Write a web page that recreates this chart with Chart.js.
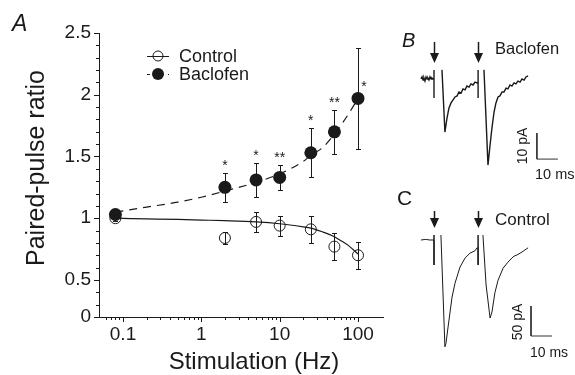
<!DOCTYPE html>
<html lang="en">
<head>
<meta charset="UTF-8" />
<title>Paired-pulse ratio vs stimulation frequency</title>
<script src="https://cdn.jsdelivr.net/npm/chart.js@4"></script>
<style>
  body { margin: 0; background: #fff; }
  #fig { position: relative; width: 575px; height: 375px; overflow: hidden;
         font-family: "Liberation Sans", Arial, Helvetica, sans-serif; color: #1a1a1a; }
  #fig canvas { position: absolute; }
  .lbl { position: absolute; line-height: 1; white-space: nowrap; }
  .rot { transform: translate(-50%, -50%) rotate(-90deg); }
</style>
</head>
<body>
<div id="fig">
  <canvas id="ppr" width="400" height="375" style="left:0;top:0"></canvas>
  <canvas id="traceB" width="165" height="150" style="left:405px;top:30px"></canvas>
  <canvas id="traceC" width="165" height="180" style="left:405px;top:190px"></canvas>

  <div class="lbl" style="left:12px;top:12px;font-size:23px;font-style:italic">A</div>
  <div class="lbl rot" style="left:35px;top:168px;font-size:25px">Paired-pulse ratio</div>
  <div class="lbl" style="left:254px;top:349px;font-size:24px;transform:translateX(-50%)">Stimulation (Hz)</div>

  <div class="lbl" style="left:402px;top:30px;font-size:20px;font-style:italic">B</div>
  <div class="lbl" style="left:495px;top:40px;font-size:16.5px">Baclofen</div>
  <div class="lbl rot" style="left:522px;top:146px;font-size:14px">10 pA</div>
  <div class="lbl" style="left:535px;top:167px;font-size:14.5px">10 ms</div>

  <div class="lbl" style="left:397px;top:187px;font-size:21px">C</div>
  <div class="lbl" style="left:495px;top:211px;font-size:17px">Control</div>
  <div class="lbl rot" style="left:517px;top:322px;font-size:14px">50 pA</div>
  <div class="lbl" style="left:530px;top:345px;font-size:14px">10 ms</div>
</div>

<script>
  // ---- panel A data ----
  const FREQ = [0.08, 2, 5, 10, 25, 50, 100];
  const CONTROL = [1.00, 0.84, 0.97, 0.94, 0.91, 0.77, 0.70];
  const CONTROL_SEM = [0.02, 0.05, 0.08, 0.08, 0.11, 0.11, 0.11];
  const BACLOFEN = [1.03, 1.25, 1.31, 1.33, 1.53, 1.70, 1.97];
  const BACLOFEN_SEM = [0.04, 0.12, 0.135, 0.10, 0.20, 0.18, 0.41];
  const BACLOFEN_SIG = ['', '*', '*', '**', '*', '**', '*'];

  const FIT_FREQ = [0.08, 0.2, 0.5, 1, 2, 5, 10, 20, 25, 35, 50, 60, 75, 100];
  const CONTROL_FIT = [1.00, 0.995, 0.99, 0.985, 0.98, 0.97, 0.955, 0.93, 0.92, 0.89, 0.85, 0.82, 0.78, 0.71];
  const BACLOFEN_FIT = [1.05, 1.09, 1.13, 1.17, 1.22, 1.29, 1.36, 1.46, 1.51, 1.57, 1.68, 1.75, 1.84, 1.97];

  const X_LABELS = [[0.1, '0.1'], [1, '1'], [10, '10'], [100, '100']];
  const Y_LABELS = [[0.2, '0'], [0.5, '0.5'], [1, '1'], [1.5, '1.5'], [2, '2'], [2.5, '2.5']];
  const X_DECADES = [0.01, 0.1, 1, 10, 100];
  const X_MULT = [1, 2, 3, 4, 5, 6, 7, 8, 9];

  // ---- panels B/C traces (time ms from 1st stimulus, current pA) ----
  const STIM_T = [0, 21];
  const TRACE_B_T = [-6.2, -5.7, -5.2, -4.8, -4.3, -3.8, -3.3, -2.9, -2.4, -1.9, -1.4, -1.0, -0.5, 0, 0, 0, null,
    3.8, 5.2, 6.2, 7.1, 8.1, 9.0, 10.0, 11.0, 11.9, 12.9, 13.8, 14.8, 15.7, 16.7, 17.6, 18.6, 19.5, 20.5, 21, 21, 21, null,
    23.8, 25.7, 26.7, 27.6, 28.6, 29.5, 30.5, 31.4, 32.4, 33.3, 34.3, 35.2, 36.2, 37.1, 38.1, 39.0, 40.0, 41.0, 41.9, 42.9, 43.8, 44.8];
  const TRACE_B_I = [0, 0.8, -0.4, 0.4, -0.8, 0.8, 0, 0.4, -0.4, 0.8, 0, 0.4, 0, 0, 3.5, -7.3, null,
    3.5, -20.4, -15.0, -11.2, -9.2, -8.1, -6.9, -6.5, -5.0, -5.4, -3.8, -4.2, -2.7, -3.1, -1.9, -2.3, -1.2, -1.5, -1.2, 3.5, -7.3, null,
    3.5, -33.1, -25.4, -18.8, -12.7, -9.2, -6.9, -6.5, -5.0, -5.0, -3.5, -3.8, -2.3, -2.7, -1.5, -1.9, -0.8, -1.2, 0, -0.4, 0.8, 1.2];

  const TRACE_C_T = [-6.2, -4.0, -2.0, 0, 0, 0, null,
    3.3, 5.2, 5.7, 6.7, 8.6, 10.0, 12.4, 14.8, 17.1, 19.5, 20.5, 21, 21, 21, null,
    23.3, 24.8, 26.7, 27.6, 29.0, 30.5, 32.9, 35.2, 37.1, 38.1, 39.5, 41.9, 44.8];
  const TRACE_C_I = [0, 1, 0, 0, 8.3, -41.7, null,
    8.3, -178, -172, -145, -95, -72, -45, -30, -22, -18, -13, -13, 8.3, -41.7, null,
    8.3, -75, -130, -120, -88, -67, -47, -37, -30, -27, -25, -20, -13];

  const INK = '#1a1a1a';
  const FONT = '"Liberation Sans", Arial, Helvetica, sans-serif';

  const pts = (xs, ys) => xs.map((x, i) => ({ x: x, y: ys[i] }));
  const findLabel = (list, v) => {
    const hit = list.find(p => Math.abs(p[0] - v) < 1e-6 * Math.max(1, p[0]));
    return hit ? hit[1] : '';
  };

  // error bars + significance stars
  const errorBars = {
    id: 'errorBars',
    beforeDatasetsDraw(chart) {
      const ctx = chart.ctx, xs = chart.scales.x, ys = chart.scales.y;
      ctx.save();
      ctx.strokeStyle = INK;
      ctx.lineWidth = 1;
      chart.data.datasets.forEach(ds => {
        if (!ds.sem) return;
        ds.data.forEach((p, i) => {
          const x = Math.round(xs.getPixelForValue(p.x)) + 0.5;
          const yt = Math.round(ys.getPixelForValue(p.y + ds.sem[i])) + 0.5;
          const yb = Math.round(ys.getPixelForValue(p.y - ds.sem[i])) + 0.5;
          ctx.beginPath();
          ctx.moveTo(x, yt); ctx.lineTo(x, yb);
          ctx.moveTo(x - 2.5, yt); ctx.lineTo(x + 2.5, yt);
          ctx.moveTo(x - 2.5, yb); ctx.lineTo(x + 2.5, yb);
          ctx.stroke();
        });
      });
      ctx.restore();
    },
    afterDatasetsDraw(chart) {
      const ctx = chart.ctx, xs = chart.scales.x, ys = chart.scales.y;
      ctx.save();
      ctx.fillStyle = INK;
      ctx.font = '14px ' + FONT;
      ctx.textAlign = 'center';
      ctx.textBaseline = 'alphabetic';
      chart.data.datasets.forEach(ds => {
        if (!ds.sig) return;
        const last = ds.data.length - 1;
        ds.data.forEach((p, i) => {
          if (!ds.sig[i]) return;
          const x = xs.getPixelForValue(p.x);
          if (i === last) {
            ctx.fillText(ds.sig[i], x + 6, ys.getPixelForValue(p.y) - 15 + 8);
          } else {
            ctx.fillText(ds.sig[i], x, ys.getPixelForValue(p.y + ds.sem[i]) - 11 + 8);
          }
        });
      });
      ctx.restore();
    }
  };

  // minor / major tick marks
  const axisTicks = {
    id: 'axisTicks',
    afterDraw(chart) {
      const ctx = chart.ctx, a = chart.chartArea;
      ctx.save();
      ctx.strokeStyle = INK;
      ctx.lineWidth = 1;
      ctx.beginPath();
      chart.scales.x.ticks.forEach(t => {
        const x = Math.round(chart.scales.x.getPixelForValue(t.value)) + 0.5;
        ctx.moveTo(x, a.bottom); ctx.lineTo(x, a.bottom + (t.label ? 5 : 3));
      });
      chart.scales.y.ticks.forEach(t => {
        const y = Math.round(chart.scales.y.getPixelForValue(t.value)) + 0.5;
        ctx.moveTo(a.left - (t.label ? 5 : 3), y); ctx.lineTo(a.left, y);
      });
      ctx.stroke();
      ctx.restore();
    }
  };

  // legend drawn inside the plot
  const innerLegend = {
    id: 'innerLegend',
    afterDraw(chart, args, opts) {
      const ctx = chart.ctx;
      ctx.save();
      ctx.font = opts.fontSize + 'px ' + FONT;
      ctx.textBaseline = 'middle';
      opts.items.forEach((it, k) => {
        const line = chart.data.datasets[it.line], dot = chart.data.datasets[it.points];
        const y = opts.y + k * opts.rowGap, cx = opts.x + opts.lineLen / 2;
        ctx.strokeStyle = INK;
        ctx.lineWidth = 1;
        ctx.setLineDash(line.borderDash ? [3, 4] : []);
        ctx.beginPath();
        ctx.moveTo(opts.x, y + 0.5); ctx.lineTo(opts.x + opts.lineLen, y + 0.5);
        ctx.stroke();
        ctx.setLineDash([]);
        ctx.beginPath();
        ctx.arc(cx, y, dot.pointRadius - 0.5, 0, Math.PI * 2);
        if (dot.pointBackgroundColor === INK) {
          ctx.fillStyle = INK; ctx.fill();
        } else {
          ctx.fillStyle = '#fff'; ctx.fill(); ctx.stroke();
          ctx.beginPath(); ctx.moveTo(cx - 5, y + 0.5); ctx.lineTo(cx + 5, y + 0.5); ctx.stroke();
        }
        ctx.fillStyle = INK;
        ctx.fillText(dot.label, opts.x + opts.lineLen + 10, y + 1);
      });
      ctx.restore();
    }
  };

  new Chart(document.getElementById('ppr'), {
    type: 'scatter',
    data: {
      datasets: [
        { label: 'Control fit', data: pts(FIT_FREQ, CONTROL_FIT), showLine: true, pointRadius: 0,
          borderColor: INK, borderWidth: 1.2, cubicInterpolationMode: 'monotone' },
        { label: 'Baclofen fit', data: pts(FIT_FREQ, BACLOFEN_FIT), showLine: true, pointRadius: 0,
          borderColor: INK, borderWidth: 1.2, borderDash: [8, 6], cubicInterpolationMode: 'monotone' },
        { label: 'Control', data: pts(FREQ, CONTROL), sem: CONTROL_SEM, pointRadius: 5.5,
          pointBackgroundColor: 'rgba(255,255,255,0)', pointBorderColor: INK, pointBorderWidth: 1 },
        { label: 'Baclofen', data: pts(FREQ, BACLOFEN), sem: BACLOFEN_SEM, sig: BACLOFEN_SIG, pointRadius: 6.5,
          pointBackgroundColor: INK, pointBorderColor: INK, pointBorderWidth: 0 }
      ]
    },
    options: {
      responsive: false,
      animation: false,
      devicePixelRatio: 1,
      layout: { padding: { top: 33, right: 17, left: 0, bottom: 0 } },
      plugins: {
        legend: { display: false },
        tooltip: { enabled: false },
        innerLegend: { x: 147, y: 56, rowGap: 18, lineLen: 22, fontSize: 18,
          items: [{ line: 0, points: 2 }, { line: 1, points: 3 }] }
      },
      scales: {
        x: {
          type: 'logarithmic', min: 0.0494, max: 208.5,
          afterFit: s => { s.height = 58; },
          afterBuildTicks: s => {
            const vals = [];
            X_DECADES.forEach(d => X_MULT.forEach(m => {
              const v = +(d * m).toPrecision(3);
              if (v > 0.052 && v <= 100) vals.push(v);
            }));
            s.ticks = vals.map(v => ({ value: v }));
          },
          grid: { display: false, drawTicks: false },
          border: { display: true, color: INK, width: 1 },
          ticks: { autoSkip: false, maxRotation: 0, minRotation: 0, padding: 6, color: INK,
            font: { size: 19, family: FONT }, callback: v => findLabel(X_LABELS, v) }
        },
        y: {
          min: 0.2, max: 2.5,
          afterFit: s => { s.width = 99; },
          afterBuildTicks: s => {
            const vals = [];
            for (let k = 2; k <= 25; k++) vals.push(k / 10);
            s.ticks = vals.map(v => ({ value: v }));
          },
          grid: { display: false, drawTicks: false },
          border: { display: true, color: INK, width: 1 },
          ticks: { autoSkip: false, padding: 8, color: INK,
            font: { size: 19, family: FONT }, callback: v => findLabel(Y_LABELS, v) }
        }
      }
    },
    plugins: [errorBars, axisTicks, innerLegend]
  });

  // ---- traces ----
  const stimArrows = {
    id: 'stimArrows',
    afterDraw(chart, args, opts) {
      const ctx = chart.ctx;
      ctx.save();
      ctx.strokeStyle = INK;
      ctx.fillStyle = INK;
      ctx.lineWidth = 1.5;
      STIM_T.forEach(t => {
        const x = Math.round(chart.scales.x.getPixelForValue(t)) + 0.5;
        ctx.beginPath();
        ctx.moveTo(x, opts.top); ctx.lineTo(x, opts.tip - 8);
        ctx.stroke();
        ctx.beginPath();
        ctx.moveTo(x - 4.5, opts.tip - 10); ctx.lineTo(x + 4.5, opts.tip - 10); ctx.lineTo(x, opts.tip);
        ctx.closePath(); ctx.fill();
      });
      ctx.restore();
    }
  };

  function traceChart(id, T, I, view, bar, arrow, lw) {
    const cv = document.getElementById(id);
    const x0 = -view.zeroX / view.pxPerMs;
    const y1 = view.zeroY / view.pxPerPa;
    return new Chart(cv, {
      type: 'scatter',
      data: {
        datasets: [
          { data: pts(T, I), showLine: true, spanGaps: false, pointRadius: 0, borderColor: INK, borderWidth: lw },
          { data: [{ x: bar.t, y: bar.i + bar.di }, { x: bar.t, y: bar.i }, { x: bar.t + bar.dt, y: bar.i }],
            showLine: true, pointRadius: 0, borderColor: '#333', borderWidth: 1 }
        ]
      },
      options: {
        responsive: false,
        animation: false,
        devicePixelRatio: 1,
        layout: { padding: 0 },
        plugins: { legend: { display: false }, tooltip: { enabled: false }, stimArrows: arrow },
        scales: {
          x: { type: 'linear', display: false, min: x0, max: x0 + cv.width / view.pxPerMs },
          y: { type: 'linear', display: false, max: y1, min: y1 - cv.height / view.pxPerPa }
        }
      },
      plugins: [stimArrows]
    });
  }

  traceChart('traceB', TRACE_B_T, TRACE_B_I,
    { zeroX: 29, zeroY: 49, pxPerMs: 2.1, pxPerPa: 2.6 },
    { t: 49, i: -30.8, dt: 10, di: 10 },
    { top: 12, tip: 33 }, 1.4);

  traceChart('traceC', TRACE_C_T, TRACE_C_I,
    { zeroX: 29, zeroY: 50, pxPerMs: 2.1, pxPerPa: 0.6 },
    { t: 46.2, i: -160, dt: 10, di: 50 },
    { top: 21, tip: 38 }, 1);
</script>
</body>
</html>
